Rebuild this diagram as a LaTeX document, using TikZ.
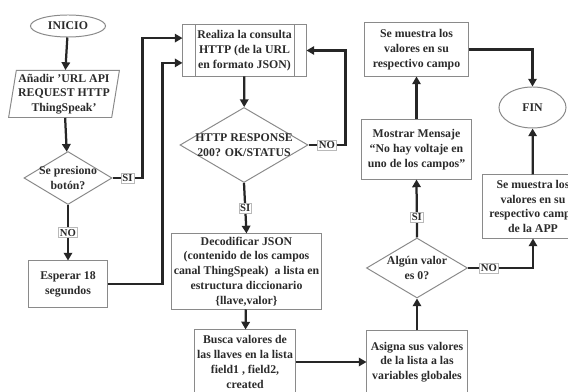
\documentclass[tikz,border=0pt]{standalone}
\usepackage{fontspec}
\setmainfont{Liberation Serif}
\usepackage{xcolor}
\usepackage{tikz}
\usetikzlibrary{arrows.meta,positioning,shapes.geometric}
\definecolor{boxGray}{HTML}{8A8A8A}
\definecolor{flowDark}{HTML}{262626}
\definecolor{textDark}{HTML}{2B2B2B}

\begin{document}
\begin{tikzpicture}[x=0.025cm, y=-0.025cm,
        font=\fontsize{8.4}{10.5}\selectfont\bfseries, text=textDark,
        txt/.style={align=center, font=\fontsize{8.4}{10.5}\selectfont\bfseries, text=textDark},
        proc/.style={draw=boxGray, line width=0.7pt, rectangle, align=center, inner sep=1pt},
        io/.style={draw=boxGray, line width=0.7pt, trapezium, trapezium left angle=80, trapezium right angle=100,
            trapezium stretches=true, align=center, inner sep=1pt},
        decision/.style={draw=boxGray, line width=0.7pt, diamond, inner sep=0pt},
        term/.style={draw=boxGray, line width=0.7pt, ellipse, inner sep=0pt},
        lbl/.style={fill=white, draw=boxGray!60, line width=0.4pt, inner sep=1pt,
            font=\fontsize{7.6}{8}\selectfont\bfseries},
        flow/.style={draw=flowDark, line width=1.6pt, -{Triangle[length=5.5pt,width=6pt]}},
        link/.style={draw=flowDark, line width=1.6pt}]
        \useasboundingbox (0,0) rectangle (568,392);

        % left column
        \node[term, minimum width=1.875cm, minimum height=0.55cm] (inicio) at (68,26) {INICIO};
        \node[io, minimum width=2.775cm, minimum height=1.175cm] (anadir) at (64,94) {Añadir 'URL API\\REQUEST HTTP\\ThingSpeak'};
        \node[decision, minimum width=2.2cm, minimum height=1.325cm,
            label={[txt]center:{Se presiono\\botón?}}] (presiono) at (68,178) {};
        \node[proc, minimum width=1.95cm, minimum height=1.15cm] (esperar) at (68,284) {Esperar 18\\segundos};

        % middle column
        \node[proc, minimum width=3.075cm, minimum height=1.275cm] (consulta) at (244.5,50.5) {Realiza la consulta\\HTTP (de la URL\\en formato JSON)};
        \draw[boxGray, line width=0.7pt] ([xshift=0.33cm]consulta.north west) -- ([xshift=0.33cm]consulta.south west);
        \draw[boxGray, line width=0.7pt] ([xshift=-0.3cm]consulta.north east) -- ([xshift=-0.3cm]consulta.south east);
        \node[decision, minimum width=3.2cm, minimum height=1.875cm,
            label={[txt]center:{HTTP RESPONSE\\200? OK/STATUS}}] (response) at (244,145) {};
        \node[proc, minimum width=3.725cm, minimum height=1.875cm] (decodificar) at (246.5,271.5)
            {Decodificar JSON\\(contenido de los campos\\canal ThingSpeak)\ \ a lista en\\estructura diccionario\\\{llave,valor\}};
        \node[proc, minimum width=2.5cm, minimum height=1.6cm] (busca) at (245,362) {Busca valores de\\las llaves en la lista\\field1 , field2,\\created};

        % right columns
        \node[proc, minimum width=2.5cm, minimum height=1.55cm] (asigna) at (417,362) {Asigna sus valores\\de la lista a las\\variables globales};
        \node[decision, minimum width=2.525cm, minimum height=1.5cm,
            label={[txt]center:{Algún valor\\es 0?}}] (algun) at (417,268) {};
        \node[proc, minimum width=2.725cm, minimum height=1.475cm] (mostrar) at (416.5,149.5) {Mostrar Mensaje\\“No hay voltaje en\\uno de los campos”};
        \node[proc, minimum width=2.575cm, minimum height=1.325cm] (campo) at (416.5,49.5) {Se muestra los\\valores en su\\respectivo campo};
        \node[term, minimum width=1.675cm, minimum height=1.025cm] (fin) at (532.5,107.5) {FIN};
        \node[proc, minimum width=2.5cm, minimum height=1.575cm] (appbox) at (533,206.5) {Se muestra los\\valores en su\\respectivo campo\\de la APP};

        % connectors
        \draw[flow] (inicio) -- (anadir);
        \draw[flow] (anadir) -- (presiono);
        \draw[flow] (presiono.east) -- node[lbl] {SI} ++(30,0) |- ([yshift=0.31cm]consulta.west);
        \draw[flow] (presiono.south) -- node[lbl] {NO} (esperar.north);
        \draw[flow] (esperar.east) -- ++(55,0) |- ([yshift=-0.31cm]consulta.west);
        \draw[flow] (consulta) -- (response);
        \draw[flow] (response.east) -- node[lbl] {NO} ++(37,0) |- (consulta.east);
        \draw[flow] (response.south) -- node[lbl] {SI} (decodificar.north);
        \draw[flow] (decodificar) -- (busca);
        \draw[flow] (busca) -- (asigna);
        \draw[flow] (asigna) -- (algun);
        \draw[flow] (algun.north) -- node[lbl, pos=0.35] {SI} (mostrar.south);
        \draw[flow] (algun.east) -| node[lbl, pos=0.16] {NO} (appbox.south);
        \draw[flow] (mostrar) -- (campo);
        \draw[flow] (campo.east) -| (fin.north);
        \draw[flow] (appbox) -- (fin);
    \end{tikzpicture}
\end{document}
